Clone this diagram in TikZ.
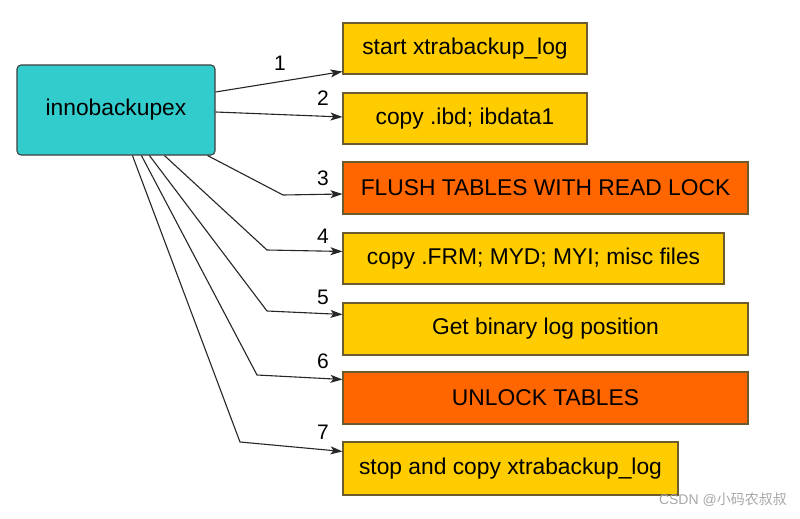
\documentclass[tikz,border=0pt]{standalone}
\usepackage{fontspec}
\setmainfont{Liberation Sans}
\newfontfamily\cjkfont{Noto Sans CJK SC}
\usetikzlibrary{arrows.meta}
\definecolor{cyanbox}{HTML}{33CCCC}
\definecolor{yellowbox}{HTML}{FFCC00}
\definecolor{orangebox}{HTML}{FF6600}
\definecolor{boxborder}{HTML}{6B5B2E}
\definecolor{wmark}{HTML}{A8A8A8}
\tikzset{
  mainbox/.style={draw=black!75, fill=cyanbox, line width=1.1pt, rounded corners=4pt,
    minimum width=198pt, minimum height=90pt, inner sep=0pt,
    font=\fontsize{22.8}{26}\selectfont},
  stepbox/.style={draw=boxborder, line width=1.1pt, minimum height=51pt, inner sep=0pt,
    font=\fontsize{22.8}{26}\selectfont},
  ybox/.style={stepbox, fill=yellowbox},
  obox/.style={stepbox, fill=orangebox},
  conn/.style={draw=black!85, line width=1.1pt, -{Stealth[length=12pt,width=8pt,inset=3pt]}},
  numlab/.style={font=\fontsize{21}{24}\selectfont, inner sep=0pt}
}
\begin{document}
\begin{tikzpicture}[x=1pt,y=-1pt]
\useasboundingbox (0,0) rectangle (800,519);
\fill[white] (0,0) rectangle (800,519);

\node[mainbox] (main) at (116,110) {innobackupex};

\node[ybox, minimum width=244pt] (b1) at (465,48.5) {\raisebox{-2pt}{start xtrabackup\_log}};
\node[ybox, minimum width=244pt] (b2) at (465,118.5) {\raisebox{-2pt}{copy .ibd; ibdata1}};
\node[obox, minimum width=405pt, minimum height=52pt] (b3) at (545.5,188) {FLUSH TABLES WITH READ LOCK};
\node[ybox, minimum width=381pt] (b4) at (533.5,258.5) {\raisebox{-2pt}{copy .FRM; MYD; MYI; misc files}};
\node[ybox, minimum width=405pt, minimum height=52pt] (b5) at (545.5,329) {Get binary log position};
\node[obox, minimum width=405pt, minimum height=52pt] (b6) at (545.5,398) {UNLOCK TABLES};
\node[ybox, minimum width=335pt, minimum height=53pt] (b7) at (510.5,468.5) {\raisebox{-2pt}{stop and copy xtrabackup\_log}};

\draw[conn] ([yshift=18pt]main.east) -- ([yshift=3pt]b1.south west);
\draw[conn] ([yshift=-2pt]main.east) -- ([yshift=1.5pt]b2.west);
\draw[conn] ([xshift=-8pt]main.south east) -- (283,195) -- ([yshift=-6pt]b3.west);
\draw[conn] ([xshift=148pt]main.south west) -- (267,250) -- ([yshift=-19pt]b4.north west);
\draw[conn] ([xshift=133pt]main.south west) -- (267,311) -- ([yshift=-12pt]b5.north west);
\draw[conn] ([xshift=125pt]main.south west) -- (257,375) -- ([yshift=-8pt]b6.north west);
\draw[conn] ([xshift=116pt]main.south west) -- (240,442) -- ([yshift=-10pt]b7.north west);

\node[numlab] (n1) at (280,63) {1};
\node[numlab] (n2) at (323,98) {2};
\node[numlab] (n3) at (323,178) {3};
\node[numlab] (n4) at (323,236) {4};
\node[numlab] (n5) at (323,297) {5};
\node[numlab] (n6) at (323,361) {6};
\node[numlab] (n7) at (323,432) {7};

\node[text=wmark, inner sep=0pt, anchor=east, font=\fontsize{14}{16}\selectfont] (wm) at (787,500) {CSDN @{\cjkfont 小码农叔叔}};
\end{tikzpicture}
\end{document}
